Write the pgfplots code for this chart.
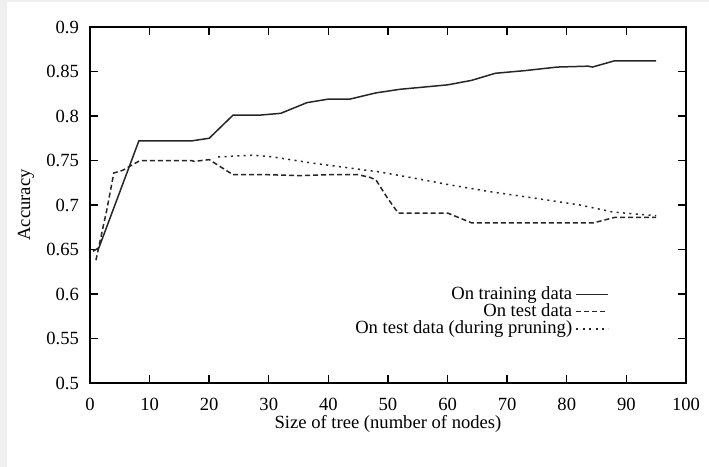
\documentclass[border=0pt]{standalone}
\usepackage{fontspec}
\setmainfont{Liberation Serif}
\usepackage{pgfplots}
\pgfplotsset{compat=1.18}
\newcommand{\myfont}{\fontsize{9.3pt}{10pt}\selectfont}
\begin{document}
\begin{tikzpicture}
\fill[gray!12] (-45pt,-42pt) rectangle (-41.5pt,191.5pt);
\fill[gray!12] (-45pt,190.5pt) rectangle (309.5pt,191.5pt);
\begin{axis}[
  scale only axis,
  width=298pt, height=178pt,
  xmin=0, xmax=100, ymin=0.5, ymax=0.9,
  xtick={0,10,...,100},
  ytick={0.5,0.55,...,0.9},
  yticklabels={0.5,0.55,0.6,0.65,0.7,0.75,0.8,0.85,0.9},
  tick align=inside,
  major tick length=3.8pt,
  tick style={line width=0.7pt, black},
  axis line style={line width=0.9pt, black},
  /pgf/number format/assume math mode=true,
  tick label style={font=\myfont},
  yticklabel style={xshift=-2pt},
  xticklabel style={yshift=-4pt},
  xlabel={Size of tree (number of nodes)},
  ylabel={Accuracy},
  x label style={font=\myfont, at={(axis description cs:0.5,-0.1152)}, anchor=center},
  y label style={font=\myfont, at={(axis description cs:-0.1074,0.5)}, anchor=center},
  legend plot pos=right,
  legend cell align=right,
  legend image code/.code={\draw[#1] (0pt,0pt) -- (16pt,0pt);},
  legend style={font=\myfont, draw=none, fill=none, inner sep=0pt, outer sep=0pt,
    nodes={inner xsep=1.7pt, inner ysep=0.3pt},
    at={(axis cs:87.1,0.609)}, anchor=north east},
]
\addplot[black!85, line width=0.75pt] coordinates {
(0.5,0.648) (1.5,0.652) (8.2,0.772) (17,0.772) (20,0.775) (24,0.801) (28.5,0.801)
(32,0.803) (36.4,0.815) (40,0.819) (43.6,0.819) (48,0.826) (52,0.830) (60,0.835)
(64,0.840) (68,0.848) (73,0.851) (78.4,0.855) (83.6,0.856) (84.3,0.855) (88,0.862) (95,0.862)
};
\addlegendentry{On training data}
\addplot[black!85, line width=0.75pt, dash pattern=on 2.5pt off 1.5pt] coordinates {
(1,0.638) (2.8,0.694) (4,0.736) (5.5,0.739) (8.4,0.750) (17,0.750) (17.5,0.749) (20,0.751)
(24,0.734) (30,0.734) (35,0.733) (40,0.734) (45,0.734) (47,0.731) (48,0.728) (49.8,0.709)
(51.7,0.691) (60,0.691) (64,0.680) (84.5,0.680) (88,0.686) (95,0.686)
};
\addlegendentry{On test data}
\addplot[black!85, line width=0.75pt, dash pattern=on 1pt off 2.2pt] coordinates {
(21.5,0.754) (27.4,0.756) (30.7,0.754) (37.4,0.747) (43.1,0.742) (48.7,0.737) (53.7,0.731)
(60.9,0.722) (67.1,0.715) (74.3,0.708) (82.2,0.700) (87.8,0.692) (95,0.688)
};
\addlegendentry{On test data (during pruning)}
\end{axis}
\path[use as bounding box] (-45pt,-42pt) rectangle (309.5pt,191.5pt);
\end{tikzpicture}
\end{document}
